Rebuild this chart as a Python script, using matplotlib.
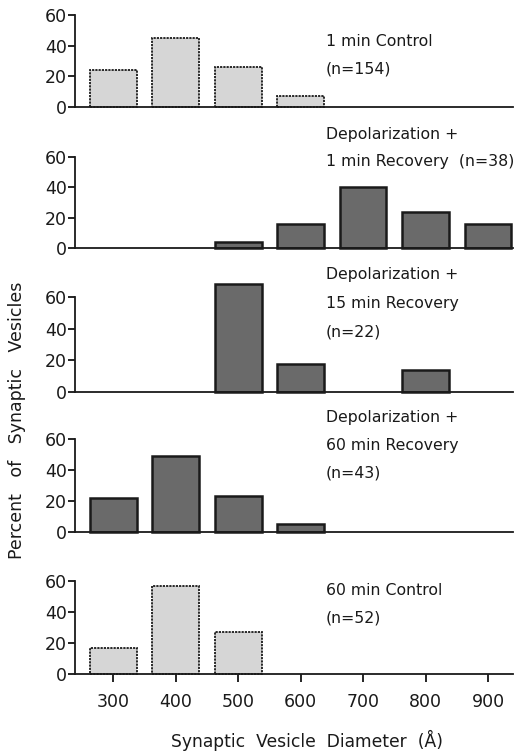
import matplotlib.pyplot as plt

# Synaptic vesicle diameter bins (Angstrom)
diameters = [300, 400, 500, 600, 700, 800, 900]

# percent of vesicles in each bin, one list per condition
ctrl_1min = [24, 45, 26, 7, 0, 0, 0]
dep_1min = [0, 0, 4, 16, 40, 24, 16]
dep_15min = [0, 0, 68, 18, 0, 14, 0]
dep_60min = [22, 49, 23, 5, 0, 0, 0]
ctrl_60min = [17, 57, 27, 0, 0, 0, 0]

labels = [
    ["1 min Control", "(n=154)"],
    ["Depolarization +", "1 min Recovery  (n=38)"],
    ["Depolarization +", "15 min Recovery", "(n=22)"],
    ["Depolarization +", "60 min Recovery", "(n=43)"],
    ["60 min Control", "(n=52)"],
]
series = [ctrl_1min, dep_1min, dep_15min, dep_60min, ctrl_60min]
is_control = [True, False, False, False, True]

yticks = [0, 20, 40, 60]
xticks = [300, 400, 500, 600, 700, 800, 900]

W, H = 514, 752
# pixel rows of the 0 and 60 gridlines for each panel
panel_px = [(107, 15), (248, 157), (392, 297), (532, 439), (674, 581)]
text_top = [43, 75, 74, 74, 54]

plt.rcParams['font.family'] = ['DejaVu Sans']
fig = plt.figure(figsize=(W / 100, H / 100), dpi=100)

for i, (vals, lines) in enumerate(zip(series, labels)):
    y0, y60 = panel_px[i]
    ax = fig.add_axes([75 / W, 1 - y0 / H, (513 - 75) / W, (y0 - y60) / H])
    xs = [d for d, v in zip(diameters, vals) if v > 0]
    hs = [v for v in vals if v > 0]
    if is_control[i]:
        ax.bar(xs, hs, width=75, color='#d6d6d6', edgecolor='#1a1a1a',
               linewidth=1.3, linestyle=(0, (1.2, 0.6)), clip_on=False, zorder=2)
    else:
        ax.bar(xs, hs, width=75, color='#6a6a6a', edgecolor='#1a1a1a',
               linewidth=1.8, clip_on=False, zorder=2)
    ax.set_xlim(239, 940)
    ax.set_ylim(0, 60)
    ax.set_yticks(yticks)
    ax.tick_params(axis='y', labelsize=12.5, length=5, width=1.2, pad=1,
                   labelcolor='#1a1a1a')
    for s in ['top', 'right']:
        ax.spines[s].set_visible(False)
    for s in ['left', 'bottom']:
        ax.spines[s].set_linewidth(1.3)
        ax.spines[s].set_color('#1a1a1a')
    if i == len(series) - 1:
        ax.set_xticks(xticks)
        ax.tick_params(axis='x', labelsize=12.5, length=6, width=1.2, pad=8,
                       labelcolor='#1a1a1a')
    else:
        ax.set_xticks([])
    for k, line in enumerate(lines):
        ax.text(640, text_top[i] - k * 18, line, fontsize=11.3, va='center',
                ha='left', color='#1a1a1a')

fig.text(17 / W, 1 - 420 / H, "Percent   of   Synaptic   Vesicles", rotation=90,
         ha='center', va='center', fontsize=12.5, color='#1a1a1a')
fig.text(307 / W, 1 - 740 / H, "Synaptic  Vesicle  Diameter  (Å)",
         ha='center', va='center', fontsize=12.3, color='#1a1a1a')

fig.savefig("out.png", dpi=100)
plt.close()
